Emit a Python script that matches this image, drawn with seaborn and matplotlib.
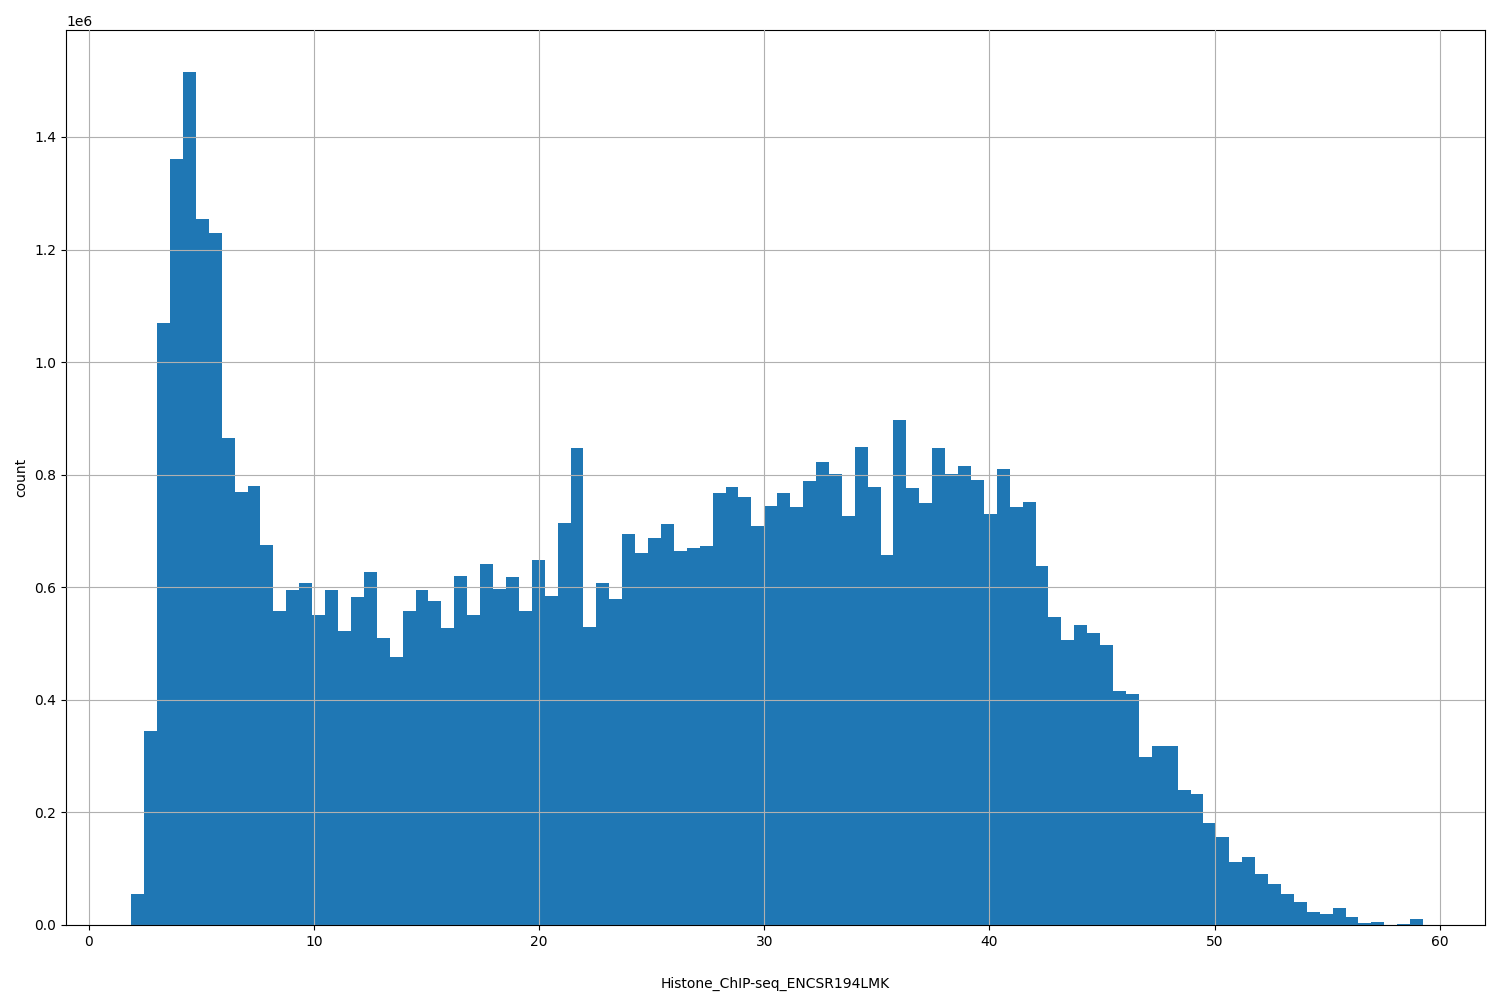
import numpy as np
import pandas as pd
import matplotlib
matplotlib.use("Agg")
import matplotlib.pyplot as plt
import seaborn as sns

# bin layout: 100 bins between min and max
bin_start = 1.9
bin_end = 59.25
n_bins = 100

# counts per bin (x 1e6), left to right
counts_m = [
    0.055, 0.345, 1.07, 1.36, 1.515, 1.255, 1.23, 0.865, 0.77, 0.78,
    0.675, 0.558, 0.595, 0.607, 0.55, 0.595, 0.522, 0.582, 0.628, 0.51,
    0.477, 0.558, 0.595, 0.575, 0.528, 0.62, 0.55, 0.642, 0.597, 0.618,
    0.557, 0.648, 0.585, 0.715, 0.848, 0.53, 0.608, 0.58, 0.695, 0.66,
    0.688, 0.713, 0.665, 0.67, 0.673, 0.767, 0.778, 0.76, 0.708, 0.745,
    0.768, 0.743, 0.788, 0.822, 0.802, 0.727, 0.85, 0.778, 0.657, 0.898,
    0.777, 0.75, 0.847, 0.802, 0.815, 0.79, 0.73, 0.81, 0.742, 0.752,
    0.637, 0.548, 0.507, 0.533, 0.518, 0.497, 0.415, 0.41, 0.298, 0.318,
    0.318, 0.24, 0.232, 0.182, 0.157, 0.112, 0.12, 0.09, 0.073, 0.055,
    0.04, 0.023, 0.02, 0.03, 0.014, 0.003, 0.005, 0.0, 0.002, 0.01,
]

edges = np.linspace(bin_start, bin_end, n_bins + 1)
centers = (edges[:-1] + edges[1:]) / 2
df = pd.DataFrame({"value": centers, "count": np.array(counts_m) * 1e6})

fig, ax = plt.subplots(figsize=(15, 10), dpi=100)
sns.histplot(data=df, x="value", weights="count", bins=n_bins,
             binrange=(bin_start, bin_end), ax=ax,
             color="#1f77b4", alpha=1, linewidth=0, edgecolor="none")
ax.grid(True, color="#b0b0b0", linewidth=0.8)
ax.set_axisbelow(False)
ax.set_xlim(-1, 62)
ax.set_ylim(0, 1.59e6)
ax.set_xlabel("Histone_ChIP-seq_ENCSR194LMK", labelpad=20)
ax.set_ylabel("count")
fig.subplots_adjust(left=0.044, right=0.99, top=0.97, bottom=0.075)
fig.savefig("out.png")
